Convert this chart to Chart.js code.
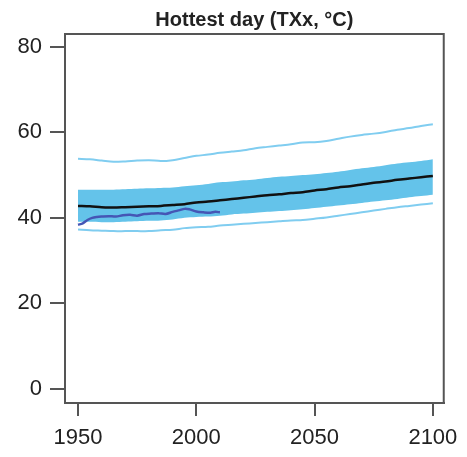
<!DOCTYPE html>
<html>
<head>
<meta charset="utf-8">
<script src="https://cdn.jsdelivr.net/npm/chart.js@4.4.0/dist/chart.umd.min.js"></script>
<style>
    html, body { margin: 0; padding: 0; background: #fff; }
    canvas { display: block; }
</style>
</head>
<body>
<canvas id="txxChart" width="467" height="457"></canvas>
<script>
// model years, 5-year steps
const years = [1950, 1955, 1960, 1965, 1970, 1975, 1980, 1985, 1990, 1995, 2000, 2005, 2010, 2015, 2020,
    2025, 2030, 2035, 2040, 2045, 2050, 2055, 2060, 2065, 2070, 2075, 2080, 2085, 2090, 2095, 2100];

// multi-model median
const median = [42.8, 42.7, 42.5, 42.4, 42.5, 42.6, 42.7, 42.8, 43.0, 43.2, 43.6, 43.8, 44.1, 44.4, 44.7,
    45.0, 45.3, 45.5, 45.8, 46.0, 46.4, 46.7, 47.1, 47.4, 47.8, 48.2, 48.5, 48.9, 49.2, 49.5, 49.8];

// shaded range
const bandHigh = [46.6, 46.6, 46.6, 46.6, 46.7, 46.8, 46.9, 47.0, 47.1, 47.4, 47.6, 47.9, 48.3, 48.5, 48.8,
    49.0, 49.3, 49.6, 49.8, 50.0, 50.2, 50.5, 50.8, 51.2, 51.6, 51.9, 52.3, 52.7, 53.0, 53.3, 53.7];
const bandLow = [39.1, 39.1, 39.0, 39.0, 39.1, 39.2, 39.3, 39.4, 39.6, 40.0, 40.2, 40.3, 40.5, 40.8, 41.0,
    41.2, 41.4, 41.6, 41.8, 42.0, 42.3, 42.6, 42.9, 43.2, 43.5, 43.8, 44.1, 44.4, 44.8, 45.1, 45.4];

// outer lines
const outerHigh = [53.8, 53.7, 53.4, 53.1, 53.2, 53.4, 53.5, 53.3, 53.5, 54.0, 54.5, 54.8, 55.2, 55.5, 55.8,
    56.3, 56.6, 56.9, 57.2, 57.6, 57.7, 58.0, 58.5, 59.0, 59.4, 59.7, 60.1, 60.6, 61.0, 61.5, 61.9];
const outerLow = [37.3, 37.1, 37.0, 36.9, 36.9, 36.9, 36.9, 37.1, 37.2, 37.6, 37.8, 37.9, 38.2, 38.4, 38.6,
    38.8, 39.0, 39.2, 39.4, 39.5, 39.8, 40.1, 40.5, 40.9, 41.3, 41.7, 42.1, 42.5, 42.8, 43.1, 43.4];

// observations
const obsYears = [1950, 1952, 1954, 1956, 1958, 1960, 1963, 1966, 1969, 1972, 1975, 1978, 1981, 1984,
    1987, 1990, 1993, 1995, 1997, 2000, 2003, 2006, 2008, 2010];
const observed = [38.4, 38.7, 39.5, 40.0, 40.2, 40.3, 40.4, 40.3, 40.6, 40.7, 40.5, 40.9, 41.0, 41.1,
    40.9, 41.4, 41.8, 42.1, 42.0, 41.5, 41.3, 41.2, 41.4, 41.3];

const xTicks = [1950, 2000, 2050, 2100];
const yTicks = [0, 20, 40, 60, 80];

const AXIS = '#555555';
const pairs = (xs, ys) => xs.map((x, i) => ({ x: x, y: ys[i] }));

// draws the box round the plot
const frame = {
    id: 'frame',
    afterDatasetsDraw(chart) {
        const a = chart.chartArea;
        const ctx = chart.ctx;
        ctx.save();
        ctx.strokeStyle = AXIS;
        ctx.lineWidth = 2;
        ctx.strokeRect(a.left, a.top, a.right - a.left, a.bottom - a.top);
        ctx.restore();
    }
};

const line = (data, color, width, order) => ({
    data: data,
    borderColor: color,
    borderWidth: width,
    pointRadius: 0,
    fill: false,
    tension: 0.3,
    order: order
});

new Chart(document.getElementById('txxChart').getContext('2d'), {
    type: 'line',
    data: {
        datasets: [
            {
                data: pairs(years, bandHigh),
                borderWidth: 0,
                pointRadius: 0,
                backgroundColor: '#64c3ea',
                fill: '+1',
                tension: 0.3,
                order: 10
            },
            {
                data: pairs(years, bandLow),
                borderWidth: 0,
                pointRadius: 0,
                fill: false,
                tension: 0.3,
                order: 10
            },
            line(pairs(years, outerHigh), '#80cdf0', 2, 5),
            line(pairs(years, outerLow), '#80cdf0', 2, 5),
            line(pairs(years, median), '#111111', 2.5, 2),
            line(pairs(obsYears, observed), '#4556b5', 2.5, 1)
        ]
    },
    plugins: [frame],
    options: {
        responsive: false,
        animation: false,
        layout: { padding: { left: 0, right: 20, top: 0, bottom: 0 } },
        plugins: {
            legend: { display: false },
            tooltip: { enabled: false },
            title: {
                display: true,
                fullSize: false,
                text: 'Hottest day (TXx, °C)',
                color: '#222',
                font: { family: 'Liberation Sans', size: 20, weight: 'bold', lineHeight: 1.2 },
                padding: { top: 8, bottom: 2 }
            }
        },
        scales: {
            x: {
                type: 'linear',
                min: 1944.5,
                max: 2104.6,
                afterBuildTicks: (axis) => { axis.ticks = xTicks.map(v => ({ value: v })); },
                afterFit: (axis) => { axis.height = 54; },
                border: { display: true, color: AXIS, width: 2 },
                grid: { drawOnChartArea: false, drawTicks: true, tickLength: 13, color: AXIS, lineWidth: 2 },
                ticks: {
                    color: '#222',
                    padding: 9,
                    maxRotation: 0,
                    font: { family: 'Liberation Sans', size: 22 },
                    callback: (v) => String(v)
                }
            },
            y: {
                type: 'linear',
                min: -3.3,
                max: 83,
                afterBuildTicks: (axis) => { axis.ticks = yTicks.map(v => ({ value: v })); },
                afterFit: (axis) => { axis.width = 65; },
                border: { display: true, color: AXIS, width: 2 },
                grid: { drawOnChartArea: false, drawTicks: true, tickLength: 15, color: AXIS, lineWidth: 2 },
                ticks: {
                    color: '#222',
                    padding: 8,
                    font: { family: 'Liberation Sans', size: 22 },
                    callback: (v) => String(v)
                }
            }
        }
    }
});
</script>
</body>
</html>
